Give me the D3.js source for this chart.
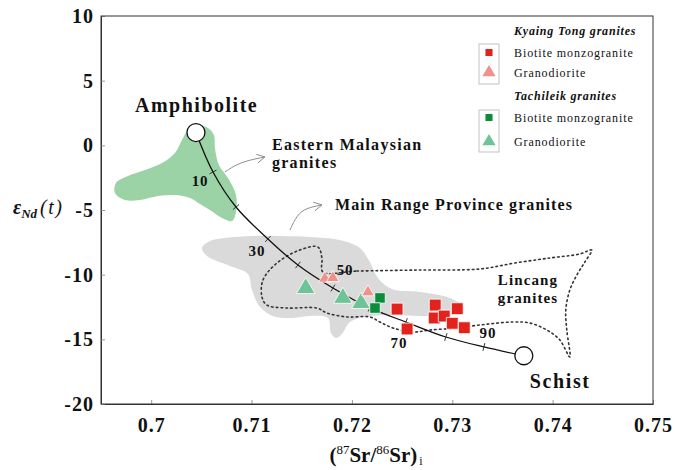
<!DOCTYPE html>
<html>
<head>
<meta charset="utf-8">
<script src="https://cdn.jsdelivr.net/npm/d3@7"></script>
<style>
  body { margin: 0; background: #fff; }
  text { font-family: "Liberation Serif", "Times New Roman", serif; fill: #111; }
</style>
</head>
<body>
<svg id="chart" width="675" height="470"></svg>
<script>
// Sr-Nd isotope plot: Kyaing Tong / Tachileik granites vs. reference fields

// axis ticks
var xTicks = [0.7, 0.71, 0.72, 0.73, 0.74, 0.75];
var yTicks = [10, 5, 0, -5, -10, -15, -20];

// samples [(87Sr/86Sr)i, eNd(t)]
var ktBiotite = [[0.7245,-12.66],[0.7255,-14.2],[0.7283,-12.35],[0.7282,-13.35],[0.7292,-13.2],[0.7305,-12.63],[0.7300,-13.76],[0.7312,-14.1]];
var ktGranodiorite = [[0.7173,-10.3],[0.7181,-10.25],[0.7216,-11.35]];
var tcBiotite = [[0.7228,-11.8],[0.7223,-12.58]];
var tcGranodiorite = [[0.7154,-11.05],[0.7191,-11.8],[0.7209,-12.2]];

// mixing line amphibolite -> schist, marked every 10 %
var mixPct = [0, 10, 20, 30, 40, 50, 60, 70, 80, 90, 100];
var mixSr = [0.70446, 0.70616, 0.70845, 0.71163, 0.71462, 0.71811, 0.72179, 0.72538, 0.72936, 0.73315, 0.73713];
var mixNd = [0.99, -2.06, -4.77, -7.24, -9.25, -11.03, -12.57, -13.66, -14.82, -15.59, -16.27];
var mixLabels = [10, 30, 50, 70, 90];

// reference fields (outlines)
var eastMalaysia = [[0.70466,1.57],[0.70566,1.34],[0.70625,0.80],[0.70635,-0.21],[0.70675,-1.52],[0.70765,-2.53],[0.70845,-3.84],[0.70845,-5.15],[0.70805,-5.85],[0.70705,-5.62],[0.70586,-5.0],[0.70486,-4.54],[0.70386,-4.07],[0.70237,-3.84],[0.70068,-3.92],[0.69888,-4.23],[0.69739,-4.23],[0.69639,-3.69],[0.69649,-2.91],[0.69769,-2.37],[0.69938,-1.91],[0.70108,-1.37],[0.70237,-0.59],[0.70307,0.41],[0.70367,1.19]];
var mainRange = [[0.70506,-7.94],[0.70586,-7.40],[0.70735,-7.17],[0.71014,-7.01],[0.71283,-7.01],[0.71582,-7.09],[0.71880,-7.32],[0.72080,-7.94],[0.72179,-9.02],[0.72259,-10.26],[0.72398,-11.11],[0.72677,-11.34],[0.72976,-11.80],[0.73096,-12.42],[0.73056,-12.96],[0.72777,-13.20],[0.72378,-13.12],[0.72129,-13.27],[0.71980,-13.66],[0.71900,-14.59],[0.71841,-14.90],[0.71791,-14.51],[0.71761,-13.35],[0.71582,-13.20],[0.71412,-13.35],[0.71213,-13.20],[0.71084,-12.50],[0.71004,-11.19],[0.70964,-9.95],[0.70785,-9.33],[0.70556,-8.56]];
var lincang = [[0.71711,-9.79],[0.72050,-9.72],[0.72677,-9.64],[0.73275,-9.56],[0.73623,-9.10],[0.73972,-8.71],[0.74271,-8.40],[0.74390,-8.09],[0.74321,-9.02],[0.74241,-10.03],[0.74171,-11.19],[0.74131,-12.73],[0.74141,-14.28],[0.74171,-16.37],[0.74072,-15.05],[0.73942,-14.28],[0.73773,-13.74],[0.73603,-13.66],[0.73275,-13.89],[0.73046,-14.12],[0.72777,-14.28],[0.72608,-14.43],[0.72409,-14.12],[0.72279,-13.66],[0.72179,-13.27],[0.71950,-13.27],[0.71751,-12.96],[0.71651,-12.58],[0.71353,-12.58],[0.71153,-12.35],[0.71104,-11.73],[0.71114,-10.41],[0.71253,-9.10],[0.71482,-8.09],[0.71661,-7.86],[0.71701,-8.71]];

// pointer arrows to field labels
var arrowEast = [[0.70735,-2.06],[0.70884,-1.29],[0.71133,-0.90]];
var arrowMain = [[0.71383,-6.55],[0.71452,-5.39],[0.71542,-4.85],[0.71701,-4.61]];

var COL = {
  ktBio: '#e2231d', ktGd: '#f0918b',
  tcBio: '#0b8c3c', tcGd: '#6ec497',
  east: '#9bd2a6', main: '#dadada'
};

var svg = d3.select('#chart');
var x = d3.scaleLinear().domain([0.695, 0.75]).range([101, 653]);
var y = d3.scaleLinear().domain([-20, 10]).range([404, 16]);

// fields
var area = d3.line().x(function (d) { return x(d[0]); }).y(function (d) { return y(d[1]); });
svg.append('path').attr('d', area.curve(d3.curveCatmullRomClosed.alpha(0.5))(mainRange))
  .attr('fill', COL.main);
svg.append('path').attr('d', area.curve(d3.curveCatmullRomClosed.alpha(0.5))(eastMalaysia))
  .attr('fill', COL.east);
svg.append('path').attr('d', area.curve(d3.curveCatmullRomClosed.alpha(0.5))(lincang))
  .attr('fill', 'none').attr('stroke', '#333').attr('stroke-width', 1.6)
  .attr('stroke-dasharray', '1.6,3.2').attr('stroke-linecap', 'round');

// axes
var xAxis = d3.axisBottom(x).tickValues(xTicks).tickSizeInner(-4).tickSizeOuter(0)
  .tickPadding(14).tickFormat(function (d) { return String(d); });
var yAxis = d3.axisLeft(y).tickValues(yTicks).tickSizeInner(-4).tickSizeOuter(0)
  .tickPadding(7).tickFormat(function (d) { return String(d); });

var gx = svg.append('g').attr('transform', 'translate(0,404)').call(xAxis);
var gy = svg.append('g').attr('transform', 'translate(101,0)').call(yAxis);
[gx, gy].forEach(function (g) {
  g.select('.domain').attr('stroke', '#333');
  g.selectAll('.tick line').attr('stroke', '#999');
  g.selectAll('.tick text').attr('font-family', '"Liberation Serif", serif')
    .attr('font-size', 20).attr('font-weight', 'bold').attr('letter-spacing', 1).attr('fill', '#111');
});
svg.append('rect').attr('x', 101).attr('y', 16).attr('width', 552).attr('height', 388)
  .attr('fill', 'none').attr('stroke', '#333');

// mixing line
var mixPts = mixSr.map(function (v, i) { return [x(v), y(mixNd[i])]; });
svg.append('path').attr('d', d3.line().curve(d3.curveCatmullRom.alpha(0.5))(mixPts))
  .attr('fill', 'none').attr('stroke', '#111').attr('stroke-width', 1.3);
for (var i = 1; i < mixPts.length - 1; i++) {
  var tx = mixPts[i + 1][0] - mixPts[i - 1][0], ty = mixPts[i + 1][1] - mixPts[i - 1][1];
  var len = Math.sqrt(tx * tx + ty * ty), nx = -ty / len, ny = tx / len;
  svg.append('line')
    .attr('x1', mixPts[i][0] - nx * 4).attr('y1', mixPts[i][1] - ny * 4)
    .attr('x2', mixPts[i][0] + nx * 4).attr('y2', mixPts[i][1] + ny * 4)
    .attr('stroke', '#222').attr('stroke-width', 0.9);
}

// percent labels (offsets from the tick)
var pctOffset = { 10: [-13, 9], 30: [-11, 12], 50: [12, -18], 70: [-7, 21], 90: [4, -14] };
mixLabels.forEach(function (p) {
  var k = mixPct.indexOf(p);
  svg.append('text').attr('x', mixPts[k][0] + pctOffset[p][0]).attr('y', mixPts[k][1] + pctOffset[p][1])
    .attr('text-anchor', 'middle').attr('dominant-baseline', 'central')
    .attr('font-size', 15).attr('font-weight', 'bold').attr('letter-spacing', 0.8).text(p);
});

// arrows
function arrow(pts) {
  var pp = pts.map(function (d) { return [x(d[0]), y(d[1])]; });
  svg.append('path').attr('d', d3.line().curve(d3.curveBasis)(pp))
    .attr('fill', 'none').attr('stroke', '#8c8c8c').attr('stroke-width', 1);
  var a = pp[pp.length - 2], b = pp[pp.length - 1];
  var ang = Math.atan2(b[1] - a[1], b[0] - a[0]);
  [-0.5, 0.5].forEach(function (o) {
    svg.append('line').attr('x1', b[0]).attr('y1', b[1])
      .attr('x2', b[0] - 9 * Math.cos(ang + o)).attr('y2', b[1] - 9 * Math.sin(ang + o))
      .attr('stroke', '#8c8c8c').attr('stroke-width', 1);
  });
}
arrow(arrowEast);
arrow(arrowMain);

// samples
function plotSymbols(data, type, size, fill) {
  svg.append('g').selectAll('path').data(data).join('path')
    .attr('transform', function (d) { return 'translate(' + x(d[0]) + ',' + y(d[1]) + ')'; })
    .attr('d', d3.symbol().type(type).size(size))
    .attr('fill', fill).attr('stroke', '#fff').attr('stroke-width', 0.8);
}
plotSymbols(tcGranodiorite, d3.symbolTriangle, 150, COL.tcGd);
plotSymbols(ktGranodiorite, d3.symbolTriangle, 70, COL.ktGd);
plotSymbols(tcBiotite, d3.symbolSquare, 110, COL.tcBio);
plotSymbols(ktBiotite, d3.symbolSquare, 140, COL.ktBio);

// end members
[0, mixPct.length - 1].forEach(function (k) {
  svg.append('circle').attr('cx', mixPts[k][0]).attr('cy', mixPts[k][1]).attr('r', 9)
    .attr('fill', '#fff').attr('stroke', '#111').attr('stroke-width', 1.3);
});

// field / end-member labels
function label(sr, nd, txt, size, ls) {
  svg.append('text').attr('x', x(sr)).attr('y', y(nd)).attr('font-size', size)
    .attr('font-weight', 'bold').attr('letter-spacing', ls).text(txt);
}
label(0.69839, 2.55, 'Amphibolite', 20, 1.5);
label(0.73773, -18.76, 'Schist', 20, 1.6);
label(0.71203, -0.36, 'Eastern Malaysian', 16, 1.3);
label(0.71203, -1.75, 'granites', 16, 1.3);
label(0.71831, -5.0, 'Main Range Province granites', 16, 1.1);
label(0.73454, -10.8, 'Lincang', 15, 1.1);
label(0.73454, -12.19, 'granites', 15, 1.1);

// legend
var legendRows = [
  { txt: 'Kyaing Tong granites', head: true, y: 35 },
  { txt: 'Biotite monzogranite', sym: d3.symbolSquare, size: 50, fill: COL.ktBio, y: 57 },
  { txt: 'Granodiorite', sym: d3.symbolTriangle, size: 75, fill: COL.ktGd, y: 77 },
  { txt: 'Tachileik granites', head: true, y: 100 },
  { txt: 'Biotite monzogranite', sym: d3.symbolSquare, size: 50, fill: COL.tcBio, y: 122 },
  { txt: 'Granodiorite', sym: d3.symbolTriangle, size: 75, fill: COL.tcGd, y: 146 }
];
var lg = svg.append('g');
[[44, 84], [110, 152]].forEach(function (b) {
  lg.append('rect').attr('x', 479).attr('y', b[0]).attr('width', 20).attr('height', b[1] - b[0])
    .attr('fill', 'none').attr('stroke', '#b5b5b5').attr('stroke-width', 0.8);
});
legendRows.forEach(function (r) {
  var t = lg.append('text').attr('x', 514).attr('y', r.y).attr('font-size', 12).text(r.txt);
  if (r.head) {
    t.attr('font-weight', 'bold').attr('font-style', 'italic').attr('letter-spacing', 0.8);
  } else {
    t.attr('letter-spacing', 0.9);
    lg.append('path').attr('transform', 'translate(489,' + (r.y - 4.5) + ')')
      .attr('d', d3.symbol().type(r.sym).size(r.size)).attr('fill', r.fill);
  }
});

// axis titles
var yt = svg.append('text').attr('x', 13).attr('y', 214).attr('font-size', 20);
yt.append('tspan').attr('font-style', 'italic').attr('font-weight', 'bold').text('\u03b5');
yt.append('tspan').attr('font-style', 'italic').attr('font-weight', 'bold').attr('font-size', 13).attr('dy', 4).text('Nd');
yt.append('tspan').attr('font-style', 'italic').attr('dy', -4).attr('dx', 3).attr('letter-spacing', 1.5).text('(t)');

var xt = svg.append('text').attr('x', 376).attr('y', 462).attr('text-anchor', 'middle')
  .attr('font-size', 21).attr('font-weight', 'bold');
xt.append('tspan').text('(');
xt.append('tspan').attr('font-size', 13).attr('font-weight', 'normal').attr('dy', -8).text('87');
xt.append('tspan').attr('dy', 8).text('Sr/');
xt.append('tspan').attr('font-size', 13).attr('font-weight', 'normal').attr('dy', -8).text('86');
xt.append('tspan').attr('dy', 8).text('Sr)');
xt.append('tspan').attr('font-size', 12).attr('font-weight', 'normal').attr('dy', 3).attr('dx', 2).text('i');
</script>
</body>
</html>
